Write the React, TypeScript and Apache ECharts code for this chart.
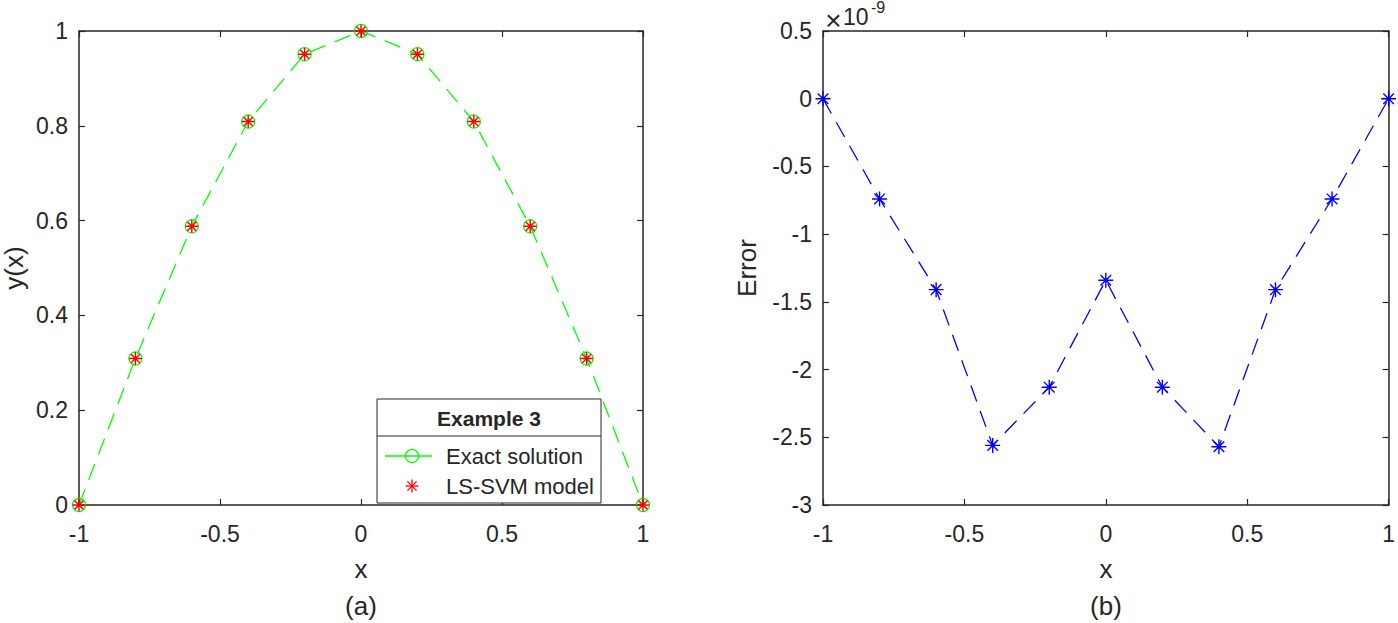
import React, { useEffect, useRef } from "react";
import * as echarts from "echarts";

const xValues = [-1, -0.8, -0.6, -0.4, -0.2, 0, 0.2, 0.4, 0.6, 0.8, 1];
const exactSolution = [0, 0.309, 0.588, 0.809, 0.951, 1, 0.951, 0.809, 0.588, 0.309, 0];
const lssvmModel = [0, 0.309, 0.588, 0.809, 0.951, 1, 0.951, 0.809, 0.588, 0.309, 0];
// error values in units of 1e-9
const errorValues = [0, -0.74, -1.41, -2.56, -2.13, -1.34, -2.13, -2.57, -1.41, -0.74, 0];

const FONT = "Liberation Sans, Arial, sans-serif";
const AX = "#262626";
const ASTERISK = "path://M0,-10L0,10M-10,0L10,0M-7.07,-7.07L7.07,7.07M-7.07,7.07L7.07,-7.07";

function pairs(ys: number[]) {
  return xValues.map((x, i) => [x, ys[i]]);
}

function mainX(gridIndex: number) {
  return {
    type: "value",
    gridIndex,
    position: "bottom",
    min: -1,
    max: 1,
    interval: 0.5,
    axisLine: { show: true, onZero: false, lineStyle: { color: AX, width: 1.5 } },
    axisTick: { show: true, inside: true, length: 6, lineStyle: { color: AX, width: 1.2 } },
    axisLabel: {
      color: AX,
      fontFamily: FONT,
      fontSize: 23,
      margin: 17,
      formatter: (v: number) => (v === 0 ? "0" : String(v)),
    },
    splitLine: { show: false },
  };
}
function topX(gridIndex: number) {
  return {
    type: "value",
    gridIndex,
    position: "top",
    min: -1,
    max: 1,
    interval: 0.5,
    axisLine: { show: true, onZero: false, lineStyle: { color: AX, width: 1.5 } },
    axisTick: { show: true, inside: true, length: 6, lineStyle: { color: AX, width: 1.2 } },
    axisLabel: { show: false },
    splitLine: { show: false },
  };
}
function leftY(gridIndex: number, min: number, max: number, interval: number) {
  return {
    type: "value",
    gridIndex,
    position: "left",
    min,
    max,
    interval,
    axisLine: { show: true, onZero: false, lineStyle: { color: AX, width: 1.5 } },
    axisTick: { show: true, inside: true, length: 6, lineStyle: { color: AX, width: 1.2 } },
    axisLabel: {
      color: AX,
      fontFamily: FONT,
      fontSize: 23,
      margin: 11,
      formatter: (v: number) => String(Math.round(v * 10) / 10),
    },
    splitLine: { show: false },
  };
}
function rightY(gridIndex: number, min: number, max: number, interval: number) {
  return {
    type: "value",
    gridIndex,
    position: "right",
    min,
    max,
    interval,
    axisLine: { show: true, onZero: false, lineStyle: { color: AX, width: 1.5 } },
    axisTick: { show: true, inside: true, length: 6, lineStyle: { color: AX, width: 1.2 } },
    axisLabel: { show: false },
    splitLine: { show: false },
  };
}

function txt(text: string, x: number, y: number, size: number, opts: any = {}) {
  return {
    type: "text",
    x,
    y,
    z: 100,
    rotation: opts.rotation || 0,
    style: {
      text,
      fill: opts.color || AX,
      font: `${opts.bold ? "bold " : ""}${size}px ${FONT}`,
      textAlign: opts.align || "center",
      textVerticalAlign: "middle",
    },
  };
}

export default function App() {
  const ref = useRef<HTMLDivElement>(null);
  useEffect(() => {
    if (!ref.current) return;
    const chart = echarts.init(ref.current, null, { renderer: "svg" });
    const ast = (cx: number, cy: number, r: number, color: string) => {
      const d = r * 0.7071;
      const segs = [
        [cx - r, cy, cx + r, cy],
        [cx, cy - r, cx, cy + r],
        [cx - d, cy - d, cx + d, cy + d],
        [cx - d, cy + d, cx + d, cy - d],
      ];
      return segs.map((s) => ({
        type: "line",
        z: 101,
        shape: { x1: s[0], y1: s[1], x2: s[2], y2: s[3] },
        style: { stroke: color, lineWidth: 1.3 },
      }));
    };
    chart.setOption({
      animation: false,
      backgroundColor: "#ffffff",
      grid: [
        { left: 79, top: 31, width: 564, height: 474, containLabel: false },
        { left: 823, top: 31, width: 566, height: 474, containLabel: false },
      ],
      xAxis: [mainX(0), topX(0), mainX(1), topX(1)],
      yAxis: [leftY(0, 0, 1, 0.2), rightY(0, 0, 1, 0.2), leftY(1, -3, 0.5, 0.5), rightY(1, -3, 0.5, 0.5)],
      series: [
        {
          name: "Exact solution",
          type: "line",
          xAxisIndex: 0,
          yAxisIndex: 0,
          data: pairs(exactSolution),
          symbol: "circle",
          symbolSize: 13,
          clip: false,
          silent: true,
          lineStyle: { color: "#00ff00", width: 1.3, type: [17, 10] },
          itemStyle: { color: "rgba(0,0,0,0)", borderColor: "#00ff00", borderWidth: 1.2 },
          z: 2,
        },
        {
          name: "LS-SVM model",
          type: "line",
          xAxisIndex: 0,
          yAxisIndex: 0,
          data: pairs(lssvmModel),
          symbol: ASTERISK,
          symbolSize: 13,
          symbolKeepAspect: true,
          clip: false,
          silent: true,
          lineStyle: { opacity: 0, width: 0 },
          itemStyle: { color: "rgba(0,0,0,0)", borderColor: "#ff0000", borderWidth: 1.4 },
          z: 3,
        },
        {
          name: "Error",
          type: "line",
          xAxisIndex: 2,
          yAxisIndex: 2,
          data: pairs(errorValues),
          symbol: ASTERISK,
          symbolSize: 15,
          symbolKeepAspect: true,
          clip: false,
          silent: true,
          lineStyle: { color: "#0000ff", width: 1.3, type: [17, 10] },
          itemStyle: { color: "rgba(0,0,0,0)", borderColor: "#0000ff", borderWidth: 1.4 },
          z: 3,
        },
      ],
      graphic: [
        txt("y(x)", 14, 268, 26, { rotation: Math.PI / 2 }),
        txt("Error", 747, 268, 26, { rotation: Math.PI / 2 }),
        txt("x", 361, 569, 26),
        txt("x", 1106, 569, 26),
        txt("(a)", 361, 606, 26),
        txt("(b)", 1106, 606, 26),
        txt("×", 833.5, 20, 28),
        txt("10", 843, 16.5, 23, { align: "left" }),
        txt("-9", 871, 7.5, 16, { align: "left" }),
        {
          type: "rect",
          z: 99,
          shape: { x: 377, y: 399, width: 224, height: 104 },
          style: { fill: "#ffffff", stroke: AX, lineWidth: 1 },
        },
        {
          type: "line",
          z: 100,
          shape: { x1: 377, y1: 436, x2: 601, y2: 436 },
          style: { stroke: AX, lineWidth: 1 },
        },
        txt("Example 3", 489, 418, 21, { bold: true }),
        {
          type: "line",
          z: 100,
          shape: { x1: 385, y1: 456, x2: 432, y2: 456 },
          style: { stroke: "#00ff00", lineWidth: 1.3 },
        },
        {
          type: "circle",
          z: 101,
          shape: { cx: 412, cy: 456, r: 6.5 },
          style: { fill: "rgba(0,0,0,0)", stroke: "#00ff00", lineWidth: 1.2 },
        },
        ...ast(412, 486, 6.5, "#ff0000"),
        txt("Exact solution", 446, 456, 22, { align: "left" }),
        txt("LS-SVM model", 446, 486, 22, { align: "left" }),
      ],
    });
    return () => chart.dispose();
  }, []);
  return (
    <div
      ref={ref}
      style={{ position: "fixed", left: 0, top: 0, width: 1398, height: 623, background: "#fff" }}
    />
  );
}
